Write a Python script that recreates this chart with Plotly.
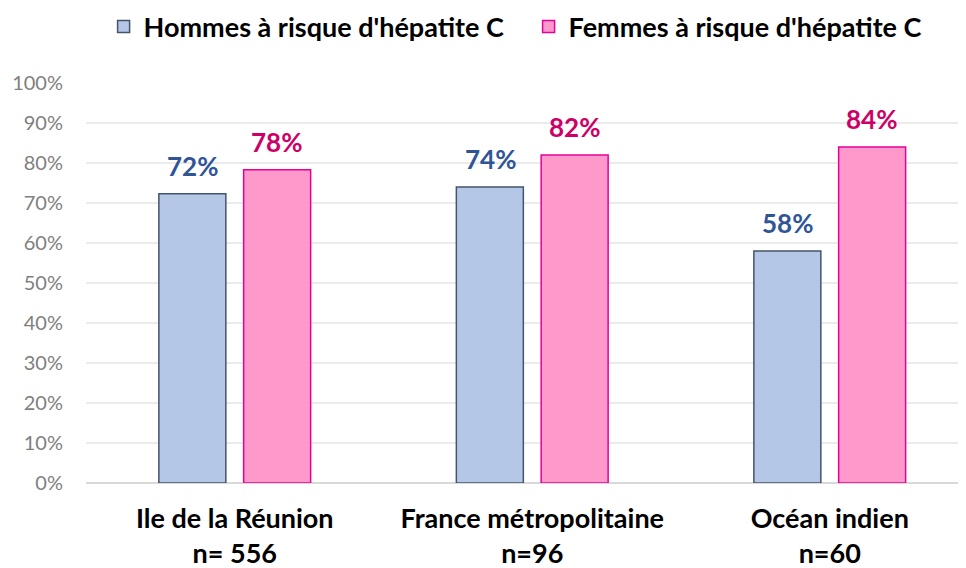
import plotly.graph_objects as go

categories = ["Ile de la Réunion<br>n= 556", "France métropolitaine<br>n=96", "Océan indien<br>n=60"]
hommes = [72.3, 74, 58]
femmes = [78.3, 82, 84]
hommes_labels = ["72%", "74%", "58%"]
femmes_labels = ["78%", "82%", "84%"]
tick_vals = [0, 10, 20, 30, 40, 50, 60, 70, 80, 90, 100]
tick_text = [f"{v}%" for v in tick_vals]

FONT = "Lato"
BLUE_TXT = "#2F5597"
PINK_TXT = "#CC0066"

fig = go.Figure()
fig.add_trace(go.Bar(
    x=categories, y=hommes, name="Hommes à risque d'hépatite C",
    marker=dict(color="#B4C7E7", line=dict(color="#44546A", width=1.5)),
))
fig.add_trace(go.Bar(
    x=categories, y=femmes, name="Femmes à risque d'hépatite C",
    marker=dict(color="#FF99CC", line=dict(color="#E6009A", width=1.5)),
))

for i, c in enumerate(categories):
    fig.add_annotation(x=c, y=hommes[i], text=hommes_labels[i], xshift=-42, yshift=28,
                       showarrow=False, yanchor="middle",
                       font=dict(family=FONT, size=26, color=BLUE_TXT, weight="bold"))
    fig.add_annotation(x=c, y=femmes[i], text=femmes_labels[i], xshift=42, yshift=28,
                       showarrow=False, yanchor="middle",
                       font=dict(family=FONT, size=26, color=PINK_TXT, weight="bold"))

# the page body adds an 8px margin, so the figure is 8px smaller than the window
fig.update_layout(
    width=958, height=560,
    margin=dict(l=78, r=0, t=75, b=85, autoexpand=False),
    paper_bgcolor="white", plot_bgcolor="white",
    barmode="group", bargap=0.43, bargroupgap=0.21,
    font=dict(family=FONT),
    showlegend=True,
    legend=dict(orientation="h", x=0.02, xanchor="left", xref="paper",
                y=1.14, yanchor="middle",
                font=dict(family=FONT, size=27, color="#000000", weight="bold"),
                entrywidth=380, entrywidthmode="pixels", traceorder="normal"),
    xaxis=dict(range=[-0.5, 2.458], showgrid=False, showline=False, ticks="",
               tickfont=dict(family=FONT, size=27, color="#000000", weight="bold"),
               ticklabelstandoff=17),
    yaxis=dict(range=[0, 100], tickvals=tick_vals, ticktext=tick_text,
               showgrid=True, gridcolor="#EBEBEB", gridwidth=1.5,
               zeroline=True, zerolinecolor="#D9D9D9", zerolinewidth=2,
               showline=False, ticks="",
               tickfont=dict(family=FONT, size=20, color="#7F7F7F"),
               ticklabelstandoff=22),
)

fig.write_html("out.html")
